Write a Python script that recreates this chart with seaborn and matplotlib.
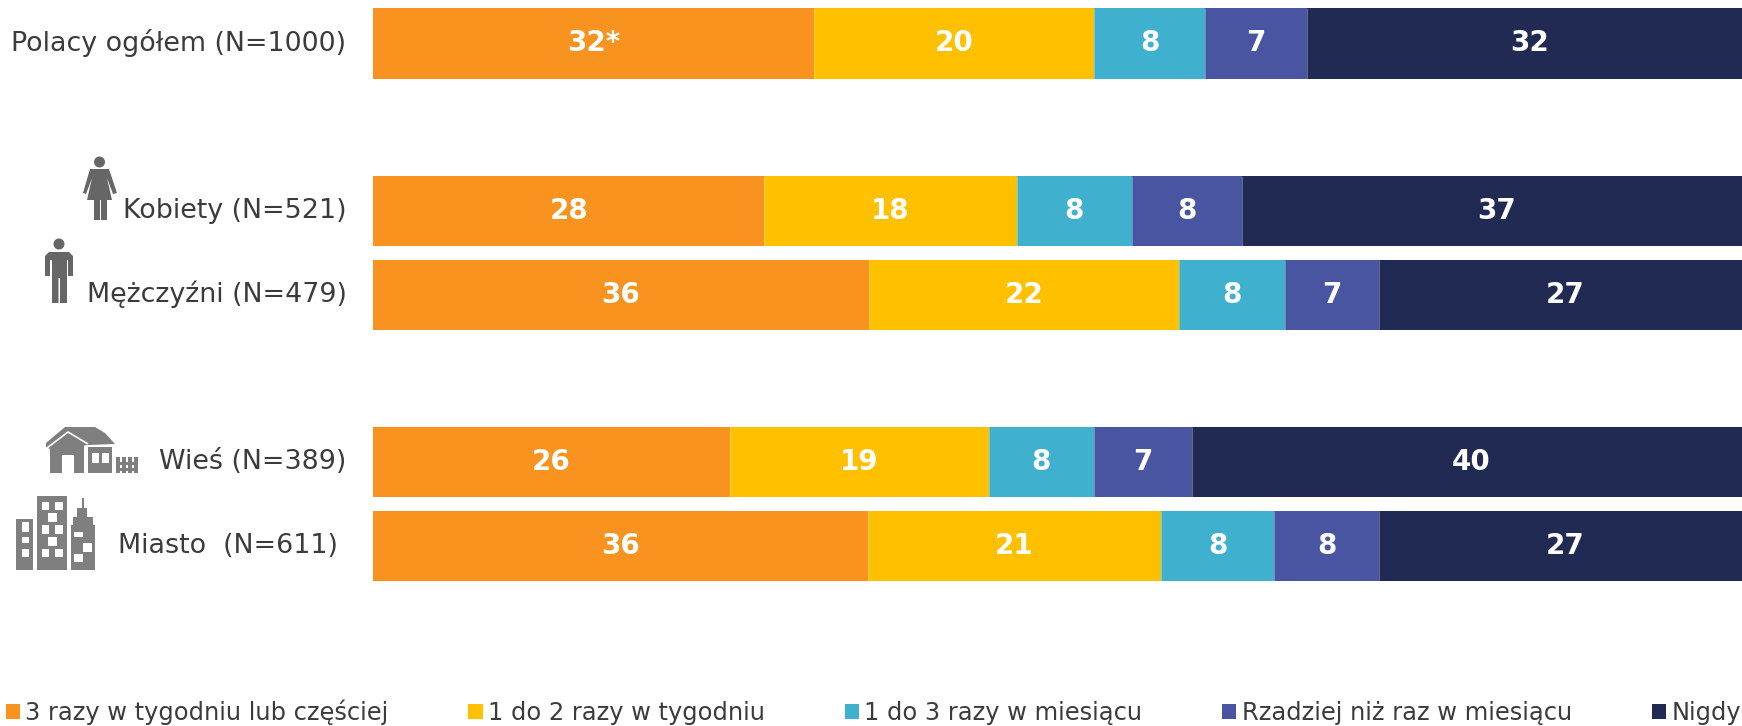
import numpy as np
import pandas as pd
import matplotlib
matplotlib.use("Agg")
import matplotlib.pyplot as plt
from matplotlib.patches import Patch, Polygon, Rectangle, Circle
import seaborn as sns

groups = ["Polacy ogółem (N=1000)", " ", "Kobiety (N=521)", "Mężczyźni (N=479)", "  ",
          "Wieś (N=389)", "Miasto  (N=611)\u00a0"]
series = ["3 razy w tygodniu lub częściej", "1 do 2 razy w tygodniu", "1 do 3 razy w miesiącu",
          "Rzadziej niż raz w miesiącu", "Nigdy"]
colors = ["#F7931E", "#FFC000", "#3FB1CE", "#4A55A2", "#212A53"]
s1 = [32.0, 0, 28.4, 36.0, 0, 25.9, 35.9]
s2 = [20.3, 0, 18.3, 22.5, 0, 18.8, 21.3]
s3 = [8.1, 0, 8.4, 7.7, 0, 7.6, 8.2]
s4 = [7.4, 0, 8.0, 6.8, 0, 7.1, 7.6]
s5 = [32.2, 0, 36.9, 27.0, 0, 40.6, 27.0]
labels1 = ["32*", "", "28", "36", "", "26", "36"]
labels2 = ["20", "", "18", "22", "", "19", "21"]
labels3 = ["8", "", "8", "8", "", "8", "8"]
labels4 = ["7", "", "8", "7", "", "7", "8"]
labels5 = ["32", "", "37", "27", "", "40", "27"]

W, H = 1742, 726
fig = plt.figure(figsize=(W/100, H/100), dpi=100, facecolor="white")
sns.set_style("white")
plt.rcParams["font.family"] = "DejaVu Sans"
ax = fig.add_axes([373/W, 1-595/H, (W-373)/W, 595/H])

vals = np.array([s1, s2, s3, s4, s5])
cum = np.cumsum(vals, axis=0)
left = np.vstack([np.zeros(len(groups)), cum[:-1]])
labs = [labels1, labels2, labels3, labels4, labels5]
for i in range(4, -1, -1):
    df = pd.DataFrame({"g": groups, "v": cum[i]})
    sns.barplot(data=df, y="g", x="v", order=groups, color=colors[i], saturation=1, width=0.838,
                ax=ax, orient="h", linewidth=0)
for i in range(5):
    for r in range(len(groups)):
        if labs[i][r]:
            ax.text(left[i, r] + vals[i, r]/2, r, labs[i][r], ha="center", va="center",
                    color="white", fontsize=20, fontweight="bold")
# thin pale seam between neighbouring segments
for i in range(4):
    for r in range(len(groups)):
        if vals[i, r] > 0:
            ax.vlines(cum[i, r], r - 0.419, r + 0.419, color=(1, 1, 1, 0.3), linewidth=0.7)

ax.set_xlim(0, 99.35)
ax.set_ylim(6.589, -0.5197)
ax.set_xlabel(""); ax.set_ylabel("")
ax.xaxis.set_visible(False)
ax.tick_params(axis="y", length=0, pad=19, labelsize=19.4, labelcolor="#3b3b3b")
for t in ax.get_yticklabels():
    t.set_va("center")
sns.despine(ax=ax, left=True, bottom=True, top=True, right=True)
ax.patch.set_alpha(0)

# legend
handles = [Patch(facecolor=c, edgecolor="none") for c in colors]
leg = fig.legend(handles, series, ncol=5, loc="lower left", bbox_to_anchor=(-11/W, -16/H), frameon=False,
                 fontsize=17.4, labelcolor="#3b3b3b", handlelength=0.58, handleheight=0.58,
                 handletextpad=0.22, columnspacing=3.31, borderpad=0.5, borderaxespad=0.2)

# pictograms, in pixel coordinates
ov = fig.add_axes([0, 0, 1, 1], zorder=5)
ov.set_xlim(0, W); ov.set_ylim(H, 0); ov.axis("off"); ov.patch.set_alpha(0)
g1 = "#666666"; g2 = "#7f7f7f"
def poly(pts, c): ov.add_patch(Polygon(pts, closed=True, fc=c, ec="none"))
def rect(x, y, w, h, c): ov.add_patch(Rectangle((x, y), w, h, fc=c, ec="none"))
# woman
ov.add_patch(Circle((99.5, 162), 5.5, fc=g1, ec="none"))
poly([(90,169),(109,169),(117,193),(113,194),(107,178),(112,200),(87,200),(92,178),(86,194),(83,193)], g1)
rect(94, 200, 5.5, 20, g1); rect(101, 200, 5.5, 20, g1)
# man
ov.add_patch(Circle((59, 244), 5.5, fc=g1, ec="none"))
poly([(49,252),(69,252),(73,256),(73,276),(68,276),(68,260),(67,260),(67,303),(60,303),(60,278),(58.5,278),(58.5,303),(52,303),(52,260),(50,260),(50,276),(45,276),(45,256)], g1)
# house
poly([(46,443),(65,427),(95,427),(105,433),(115,444),(88,445),(50,449),(46,447)], g2)
poly([(50,473),(50,449),(68,434),(84,444),(84,473),(74,473),(74,455),(62,455),(62,473)], g2)
ov.plot([47,68,88], [448,432,444], color="white", lw=1.2, solid_capstyle="butt")
rect(88, 447, 24, 26, g2)
for (x,y,w,h) in [(92,453,7,10),(102,453,7,10)]:
    rect(x, y, w, h, "white")
for x in (116,122,128,134):
    rect(x, 457, 4, 16, g2)
rect(116, 462, 22, 3, g2); rect(116, 468, 22, 3, g2)
# city
rect(16, 519, 17, 50.5, g2)
for y,h in [(522,10),(537,6),(549,8)]:
    rect(22, y, 7, h, "white")
rect(37, 496, 30, 73.5, g2)
for x,y,w,h in [(42,502,7,8),(55,502,8,8),(48,513,9,9),(42,525,7,9),(55,525,8,9),(48,537,9,9),(42,549,7,8),(55,549,8,8)]:
    rect(x, y, w, h, "white")
poly([(71,569.5),(71,525),(73,525),(73,517),(77,517),(77,508),(82,508),(82,498),(83.5,498),(83.5,508),(87,508),(87,517),(93,517),(93,525),(95,525),(95,569.5)], g2)
for x,y,w,h in [(74,532,9,5),(83,543,9,9),(74,554,9,8)]:
    rect(x, y, w, h, "white")

fig.savefig("out.png", dpi=100)
